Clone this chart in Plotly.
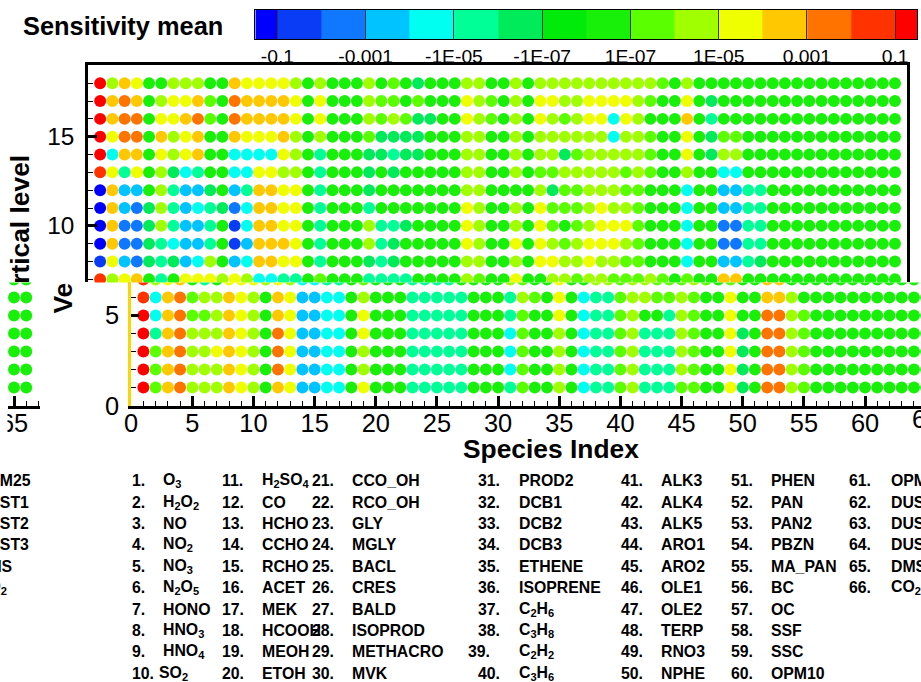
import plotly.graph_objects as go

W, H = 921, 682
FONT = "Liberation Sans, Arial, Helvetica, sans-serif"

# ---------------- data ----------------
species_names = [
    "O<sub>3</sub>", "H<sub>2</sub>O<sub>2</sub>", "NO", "NO<sub>2</sub>", "NO<sub>3</sub>",
    "N<sub>2</sub>O<sub>5</sub>", "HONO", "HNO<sub>3</sub>", "HNO<sub>4</sub>", "SO<sub>2</sub>",
    "H<sub>2</sub>SO<sub>4</sub>", "CO", "HCHO", "CCHO", "RCHO", "ACET", "MEK", "HCOOH", "MEOH", "ETOH",
    "CCO_OH", "RCO_OH", "GLY", "MGLY", "BACL", "CRES", "BALD", "ISOPROD", "METHACRO", "MVK",
    "PROD2", "DCB1", "DCB2", "DCB3", "ETHENE", "ISOPRENE", "C<sub>2</sub>H<sub>6</sub>",
    "C<sub>3</sub>H<sub>8</sub>", "C<sub>2</sub>H<sub>2</sub>", "C<sub>3</sub>H<sub>6</sub>",
    "ALK3", "ALK4", "ALK5", "ARO1", "ARO2", "OLE1", "OLE2", "TERP", "RNO3", "NPHE",
    "PHEN", "PAN", "PAN2", "PBZN", "MA_PAN", "BC", "OC", "SSF", "SSC", "OPM10",
    "OPM25", "DUST1", "DUST2", "DUST3", "DMS", "CO<sub>2</sub>",
]
species_index = list(range(1, 67))
vertical_levels = list(range(1, 19))

# colour class of the sensitivity mean (hex digit 0..f, one per species) for each vertical level
lev01 = ("f9cdaaacba8cb33448b8885555" "58885988a84559a5559988b68dda9" "88888888888")
lev02 = ("f9cdaaacba8db33448a8885555" "58884988a84559a555a988b68dda9" "88888888888")
lev03 = ("f9cdaabcba8db33448a8885555" "58884988a84559a555a988b68dda9" "88888888888")
lev04 = ("f5cdaaacba8db33448b8885555" "58884988a84559a555a988b68dda9" "88888888888")
lev05 = ("f4cd99acba8cb33448b8885555" "58885988b84559a885a988b88dda9" "88888888888")
lev06 = ("e4cd9aacba8cb33448a8885555" "58885a98b84559aa99a988b88cca8" "88888888888")
lev07 = ("eabc858bbbaba44558988855558888" "a988b88aa9aa999a98988cc8" "888888888888")
lev08 = ("1b3265634a834ccbb8588865688888" "aa88a8bbaabaa998884883356" "88888888888")
lev09 = ("0c22654335813cccb85888a5688888" "ba88b8ba9abbba98884882255" "88888888888")
lev10 = ("0c226a5335814ccbb85888a5568888" "ba88a8b989abbb98884882255" "88888888888")
lev11 = ("0c326a5345624ccbb8588858888888" "ba88a8b999abaa98884883355" "88888888888")
lev12 = ("0c338a5336835ccbb8588868888888" "aa8888a699aaa998884883355" "88888888888")
lev13 = ("eb5b8a6458844bbaa8588868688888" "aa88a899aaaaa9a988a8844" "8888888888888")
lev14 = ("f4cc8babc884444ba8588866566888" "aa88a8aa69aaaaa988b86aa" "8888888888888")
lev15 = ("fbdd8cabc88cbbbca8a88896666888" "aa88a8aaaaaa4aa988b8699" "8888888888888")
lev16 = ("fcdd8bbcd98dccccb8b888a9a96688" "ba98a8ba9abb4ba888c858" "88888888888888")
lev17 = ("fcdc8abbc98dccccb8b888a9989888" "ba98a8bbaabbbba988b868" "88888888888888")
lev18 = ("facb88aaa88cbbbba8a888a8986888" "aa88a8aaaaaaaaaa98a8" "8888888888888888")
level_rows = [lev01, lev02, lev03, lev04, lev05, lev06, lev07, lev08, lev09,
              lev10, lev11, lev12, lev13, lev14, lev15, lev16, lev17, lev18]

# colour bins of the legend (16 classes) and its labels
bin_colors = ["#0000ff", "#0a3cf5", "#0f78ff", "#00c3ff", "#00fff0", "#00ff96", "#00eb5a", "#00eb0a",
              "#19f00a", "#5aff00", "#a0ff00", "#f0ff00", "#ffc800", "#ff7300", "#ff3200", "#ff0000"]
legend_labels = ["-0.1", "-0.001", "-1E-05", "-1E-07", "1E-07", "1E-05", "0.001", "0.1"]

for r in level_rows:
    assert len(r) == 66, len(r)

xs, ys, cs = [], [], []
for lev, row in zip(vertical_levels, level_rows):
    for s, ch in zip(species_index, row):
        xs.append(s)
        ys.append(lev)
        cs.append(bin_colors[int(ch, 16)])

# the page is photographed with a small offset / scale; positions below are given in
# picture pixels and mapped back to figure coordinates
SX, OX, SY, OY = 0.99, 9.0, 0.978, 0.0
SF = 0.985


def px(x):
    return ((x - OX) / SX) / W


def py(y):
    return 1 - ((y - OY) / SY) / H


def fs(s):
    return s / SF


def clip01(v):
    return max(0.0, min(1.0, v))


fig = go.Figure()
marker = dict(size=fs(11.8), color=cs, line=dict(width=0))
for xa, ya in (("x", "y"), ("x2", "y2"), ("x3", "y3")):
    fig.add_trace(go.Scatter(x=xs, y=ys, mode="markers", marker=marker, xaxis=xa, yaxis=ya,
                             hoverinfo="skip", showlegend=False, cliponaxis=True))

# colour legend bar
edges = [-0.5] + list(range(15)) + [14.5]
cscale = []
for i, c in enumerate(bin_colors):
    cscale.append([i / 16, c])
    cscale.append([(i + 1) / 16, c])
fig.add_trace(go.Heatmap(z=[list(range(16))], x=edges, y=[0, 1], zmin=-0.5, zmax=15.5,
                         colorscale=cscale, showscale=False, xaxis="x4", yaxis="y4",
                         hoverinfo="skip"))

blk = "black"
minor1 = dict(dtick=1, tick0=0, ticks="inside", ticklen=5, tickwidth=1, tickcolor=blk)
common = dict(showgrid=False, zeroline=False)

sp = 12.215                      # picture pixels per species
x2_right = min(921.0, OX + SX * W)
y_top_lo = (403.5 - 282) / 17.8
fig.update_layout(
    width=W, height=H, autosize=False, margin=dict(l=0, r=0, t=0, b=0, pad=0),
    paper_bgcolor="white", plot_bgcolor="rgba(0,0,0,0)", showlegend=False,
    font=dict(family=FONT, color="black"),
    xaxis=dict(domain=[px(88.8), px(907)], range=[0, 67], side="top", showline=True,
               linecolor=blk, linewidth=2.5, ticks="", showticklabels=False, anchor="y", **common),
    yaxis=dict(domain=[py(282), py(65.3)], range=[y_top_lo, 19], showline=True, mirror=True,
               linecolor=blk, linewidth=2.5, ticks="inside", dtick=5, tick0=0, ticklen=9,
               tickwidth=2.5, tickcolor=blk, minor=minor1, tickfont=dict(size=fs(24), family=FONT),
               ticklabelstandoff=6, anchor="x", **common),
    xaxis2=dict(domain=[px(132), clip01(px(x2_right))], range=[0, (x2_right - 132) / sp], anchor="y2",
                showline=True, linecolor=blk, linewidth=2.5, ticks="inside", dtick=5, tick0=0,
                ticklen=10, tickwidth=2.5, tickcolor=blk, minor=minor1,
                tickfont=dict(size=fs(25), family=FONT), ticklabelstandoff=-7, **common),
    yaxis2=dict(domain=[py(405), py(282)], range=[0, 123 / 18], anchor="x2", showline=True,
                linecolor="#f8d800", linewidth=3, ticks="inside", dtick=5, tick0=0, ticklen=8,
                tickwidth=2.5, tickcolor=blk, minor=minor1, tickfont=dict(size=fs(25), family=FONT),
                ticklabelstandoff=4, **common),
    xaxis3=dict(domain=[clip01(px(9)), px(41)], range=[65 - 6 / sp, 65 + 26 / sp], anchor="y3",
                showline=True, linecolor=blk, linewidth=2.5, ticks="inside", dtick=5, tick0=0,
                ticklen=10, tickwidth=2.5, tickcolor=blk, minor=minor1,
                tickfont=dict(size=fs(25), family=FONT), ticklabeloverflow="allow",
                ticklabelstandoff=-7, **common),
    yaxis3=dict(domain=[py(405), py(282)], range=[0, 123 / 18], anchor="x3", visible=False, **common),
    xaxis4=dict(domain=[px(256), px(917)], range=[-0.5, 14.5], anchor="y4", showline=True,
                mirror=True, linecolor=blk, linewidth=1.2, ticks="inside", ticklen=29, tickwidth=1.2,
                tickcolor="#333333", tickmode="array", tickvals=list(range(0, 15, 2)),
                ticktext=legend_labels, tickfont=dict(size=fs(19), family=FONT), **common),
    yaxis4=dict(domain=[py(39), py(10)], range=[0, 1], anchor="x4", showline=True, mirror=True,
                linecolor=blk, linewidth=1.2, ticks="", showticklabels=False, **common),
)

ann = []
bold = dict(family=FONT, weight="bold", color="black")
ann.append(dict(x=px(22), y=py(26), text="Sensitivity mean", xanchor="left", yanchor="middle",
                font=dict(size=fs(25), **bold)))
ann.append(dict(x=px(21), y=py(219.5), text="rtical level", textangle=-90, xanchor="center",
                yanchor="middle", font=dict(size=fs(26), **bold)))
ann.append(dict(x=px(64), y=py(298), text="Ve", textangle=-90, xanchor="center",
                yanchor="middle", font=dict(size=fs(26), **bold)))
ann.append(dict(x=px(551), y=py(448.5), text="Species Index", xanchor="center", yanchor="middle",
                font=dict(size=fs(26), **bold)))
ann.append(dict(x=px(132 + 65 * sp), y=py(418), text="65", xanchor="center", yanchor="middle",
                font=dict(size=fs(25), family=FONT, color="black")))

# species list
col_num_x = [131, 221, 311, 476, 619, 729, 847]
col_name_x = [162, 261, 351, 517, 659, 769, 889]
list_font = dict(size=fs(15.6), **bold)
for i, name in enumerate(species_names):
    col, row = divmod(i, 10)
    yy = 480.0 + 21.35 * row
    nx = col_num_x[col] - (10 if i + 1 == 39 else 0)
    mx = col_name_x[col] - (4 if i + 1 == 10 else 0)
    ann.append(dict(x=px(nx), y=py(yy), text=f"{i + 1}.", xanchor="left", yanchor="middle",
                    font=list_font))
    ann.append(dict(x=px(mx), y=py(yy), text=name, xanchor="left", yanchor="middle",
                    font=list_font))
    if col == 6:
        ann.append(dict(x=px(mx - 913), y=py(yy), text=name, xanchor="left", yanchor="middle",
                        font=list_font))

for a in ann:
    a.update(xref="paper", yref="paper", showarrow=False)
fig.update_layout(annotations=ann)

fig.add_shape(type="rect", xref="paper", yref="paper", x0=px(-20), x1=px(8.5), y0=py(440), y1=py(392),
              fillcolor="white", line=dict(width=0), layer="above")

fig.write_html("out.html", config={"displayModeBar": False, "responsive": False},
               post_script="document.body.style.margin='0px';document.body.style.overflow='hidden';")
